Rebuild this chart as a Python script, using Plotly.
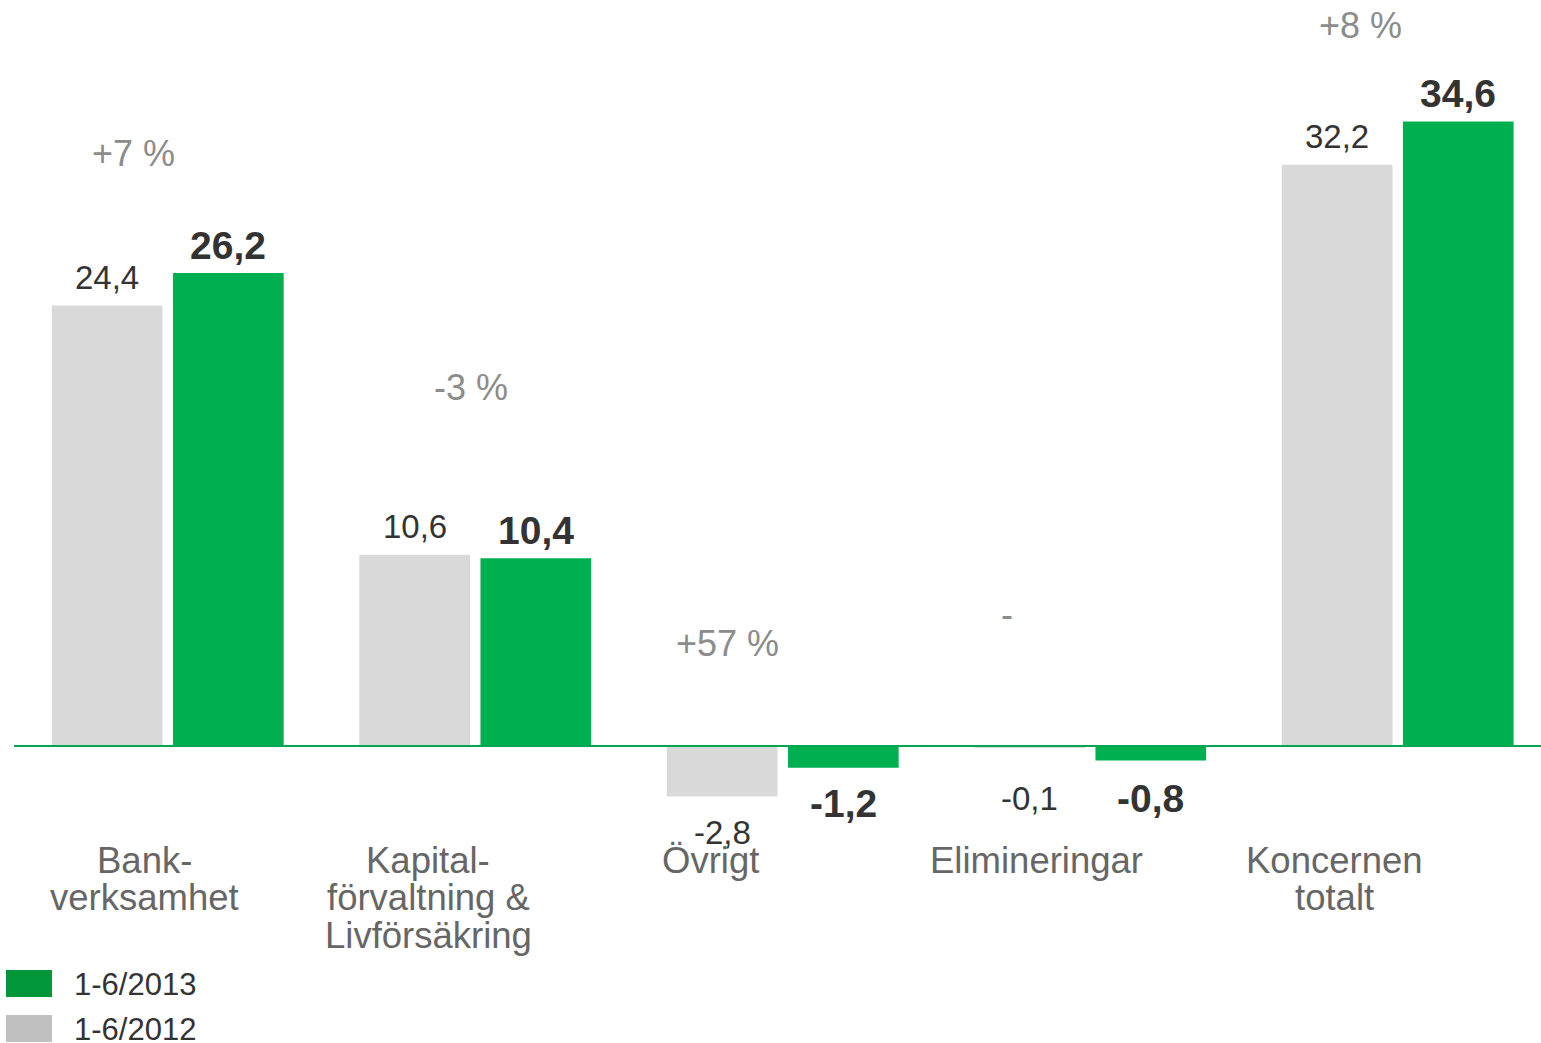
import plotly.graph_objects as go

# ---------------- data ----------------
categories = ["Bankverksamhet", "Kapitalförvaltning & Livförsäkring", "Övrigt",
              "Elimineringar", "Koncernen totalt"]
category_lines = [["Bank-", "verksamhet"],
                  ["Kapital-", "förvaltning &", "Livförsäkring"],
                  ["Övrigt"],
                  ["Elimineringar"],
                  ["Koncernen", "totalt"]]
values_2012 = [24.4, 10.6, -2.8, -0.1, 32.2]
values_2013 = [26.2, 10.4, -1.2, -0.8, 34.6]
change_labels = ["+7 %", "-3 %", "+57 %", "-", "+8 %"]
series_names = ["1-6/2013", "1-6/2012"]

# ---------------- layout constants ----------------
W, H = 1541, 1043
FONT = "Liberation Sans, Arial, sans-serif"
GRAY_BAR = "#D9D9D9"
GREEN_BAR = "#00AF50"
GREEN_LEGEND = "#009639"
GRAY_LEGEND = "#C0C0C0"

BAR_W = 0.36
OFF_GRAY = -0.197
OFF_GREEN = 0.197
X_RANGE = [-0.5455, 4.466]
Y_RANGE = [-16.45, 41.33]

# pixel positions (layout only)
cat_label_xshift = [-23, -47, -72, -54, -63]
cat_line_center_py = 860
cat_line_pitch = 37.5
change_xshift = [-34, -4, -55, -83, -37]
change_py = [153, 387, 643, 614, 25]


def py2paper(py):
    return 1 - py / H


def fmt(v):
    return f"{v:.1f}".replace(".", ",")


x_idx = list(range(len(categories)))

fig = go.Figure()
fig.add_trace(go.Bar(
    x=x_idx, y=values_2012, name=series_names[1],
    width=BAR_W, offset=OFF_GRAY - BAR_W / 2,
    marker=dict(color=GRAY_BAR, line=dict(width=0)),
    hovertext=categories, showlegend=False,
))
fig.add_trace(go.Bar(
    x=x_idx, y=values_2013, name=series_names[0],
    width=BAR_W, offset=OFF_GREEN - BAR_W / 2,
    marker=dict(color=GREEN_BAR, line=dict(width=0)),
    hovertext=categories, showlegend=False,
))

annotations = []
# value labels
for i in x_idx:
    for v, off, bold in ((values_2012[i], OFF_GRAY, False), (values_2013[i], OFF_GREEN, True)):
        if v >= 0:
            yv, ys = v, 28
        else:
            yv, ys = min(v, -0.9), -36
        annotations.append(dict(
            x=i + off, y=yv, xref="x", yref="y", yshift=ys,
            text=f"<b>{fmt(v)}</b>" if bold else fmt(v),
            showarrow=False, xanchor="center", yanchor="middle",
            font=dict(family=FONT, size=39 if bold else 33, color="#333333"),
        ))

# change labels
for i, t in enumerate(change_labels):
    annotations.append(dict(
        x=i, xref="x", xshift=change_xshift[i],
        y=py2paper(change_py[i]), yref="paper",
        text=t, showarrow=False, xanchor="center", yanchor="middle",
        font=dict(family=FONT, size=36, color="#8C8C8C"),
    ))

# category labels
for i, lines in enumerate(category_lines):
    for k, line in enumerate(lines):
        annotations.append(dict(
            x=i, xref="x", xshift=cat_label_xshift[i],
            y=py2paper(cat_line_center_py + k * cat_line_pitch), yref="paper",
            text=line, showarrow=False, xanchor="center", yanchor="middle",
            font=dict(family=FONT, size=36.5, color="#666666"),
        ))

# baseline + legend (drawn manually)
shapes = [
    dict(type="line", xref="x", yref="y", x0=X_RANGE[0] + 14 / 307.5, x1=X_RANGE[1],
         y0=0, y1=0, line=dict(color="#00A651", width=2), layer="above"),
]
legend_items = [(series_names[0], GREEN_LEGEND, 983.5), (series_names[1], GRAY_LEGEND, 1028.5)]
for name, col, cy in legend_items:
    shapes.append(dict(type="rect", xref="paper", yref="paper",
                       x0=6 / W, x1=52 / W,
                       y0=py2paper(cy + 13.5), y1=py2paper(cy - 13.5),
                       fillcolor=col, line=dict(width=0)))
    annotations.append(dict(
        x=72 / W, xref="paper", y=py2paper(cy + 1), yref="paper",
        text=name, showarrow=False, xanchor="left", yanchor="middle",
        font=dict(family=FONT, size=31, color="#333333"),
    ))

fig.update_layout(
    width=W, height=H,
    margin=dict(l=0, r=0, t=0, b=0),
    paper_bgcolor="white", plot_bgcolor="white",
    barmode="overlay",
    showlegend=False,
    xaxis=dict(range=X_RANGE, visible=False, fixedrange=True),
    yaxis=dict(range=Y_RANGE, visible=False, showgrid=False, zeroline=False, fixedrange=True),
    annotations=annotations,
    shapes=shapes,
)

fig.write_html("out.html", config={"displayModeBar": False},
               post_script="document.body.style.margin='0px';document.body.style.overflow='hidden';")
